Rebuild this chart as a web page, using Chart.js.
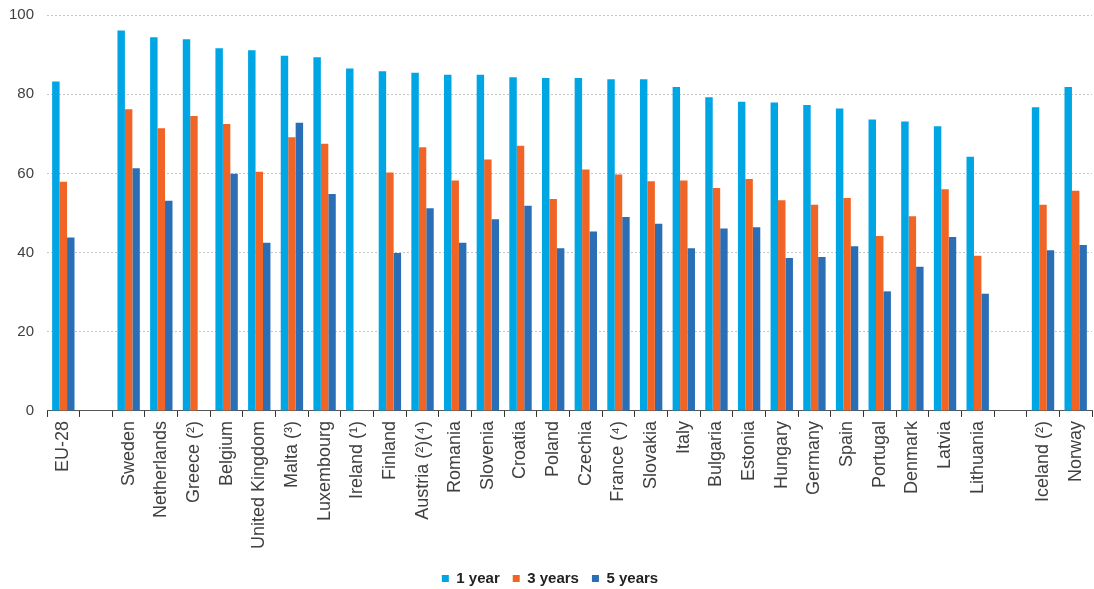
<!DOCTYPE html>
<html>
<head>
<meta charset="utf-8">
<script src="https://cdn.jsdelivr.net/npm/chart.js@4/dist/chart.umd.min.js"></script>
<style>
  html, body { margin: 0; padding: 0; background: #fff; }
  #wrap { width: 1094px; height: 589px; }
</style>
</head>
<body>
<div id="wrap"><canvas id="myChart"></canvas></div>
<script>
// countries (empty strings are the gaps between groups)
const countries = ['EU-28', '', 'Sweden', 'Netherlands', 'Greece (\u00b2)', 'Belgium', 'United Kingdom',
    'Malta (\u00b3)', 'Luxembourg', 'Ireland (\u00b9)', 'Finland', 'Austria (\u00b2)(\u2074)', 'Romania',
    'Slovenia', 'Croatia', 'Poland', 'Czechia', 'France (\u2074)', 'Slovakia', 'Italy', 'Bulgaria',
    'Estonia', 'Hungary', 'Germany', 'Spain', 'Portugal', 'Denmark', 'Latvia', 'Lithuania', '',
    'Iceland (\u00b2)', 'Norway'];

const oneYear = [83.2, null, 96.1, 94.4, 93.9, 91.6, 91.1, 89.7, 89.3, 86.5, 85.8, 85.4, 84.9,
    84.9, 84.3, 84.1, 84.1, 83.8, 83.8, 81.8, 79.2, 78.1, 77.9, 77.3, 76.4, 73.6, 73.1, 71.9, 64.2, null,
    76.7, 81.8];
const threeYears = [57.9, null, 76.2, 71.4, 74.5, 72.5, 60.4, 69.1, 67.5, null, 60.2, 66.6, 58.2,
    63.5, 67.0, 53.5, 61.0, 59.7, 58.0, 58.2, 56.3, 58.6, 53.2, 52.1, 53.8, 44.2, 49.2, 56.0, 39.2, null,
    52.1, 55.6];
const fiveYears = [43.8, null, 61.3, 53.1, null, 59.9, 42.5, 72.8, 54.8, null, 39.9, 51.2, 42.5,
    48.4, 51.8, 41.1, 45.3, 49.0, 47.3, 41.1, 46.1, 46.4, 38.6, 38.9, 41.6, 30.2, 36.4, 43.9, 29.6, null,
    40.6, 41.9];

const seriesNames = ['1 year', '3 years', '5 years'];
const yTicks = [0, 20, 40, 60, 80, 100];

const ctx = document.getElementById('myChart').getContext('2d');
const myChart = new Chart(ctx, {
    type: 'bar',
    data: {
        labels: countries,
        datasets: [
            { label: seriesNames[0], data: oneYear, backgroundColor: '#00a5e3' },
            { label: seriesNames[1], data: threeYears, backgroundColor: '#f06526' },
            { label: seriesNames[2], data: fiveYears, backgroundColor: '#2a6fb6' }
        ]
    },
    options: {
        responsive: true,
        maintainAspectRatio: false,
        animation: false,
        datasets: {
            bar: { barPercentage: 1, categoryPercentage: 0.685 }
        },
        layout: {
            padding: { top: 15, right: 2, left: 8, bottom: -7 }
        },
        plugins: {
            tooltip: { enabled: false },
            legend: {
                position: 'bottom',
                labels: {
                    boxWidth: 7,
                    boxHeight: 7,
                    padding: 13,
                    color: '#222',
                    font: { family: "'Liberation Sans', Arial", size: 15, weight: 'bold' }
                }
            }
        },
        scales: {
            x: {
                // keep the axis block the same height as the original
                afterFit: axis => {
                    axis.height += 5;
                    axis.paddingLeft = 0;
                    axis.paddingRight = 0;
                },
                grid: {
                    display: true,
                    drawOnChartArea: false,
                    offset: true,
                    tickLength: 6,
                    color: '#333'
                },
                border: { color: '#555', width: 1 },
                ticks: {
                    autoSkip: false,
                    minRotation: 90,
                    maxRotation: 90,
                    padding: 4,
                    color: '#404040',
                    font: { family: "'Liberation Sans', Arial", size: 18 }
                }
            },
            y: {
                min: 0,
                max: 100,
                afterBuildTicks: axis => { axis.ticks = yTicks.map(v => ({ value: v })); },
                afterFit: axis => {
                    axis.width = 39;
                    axis.paddingTop = 0;
                    axis.paddingBottom = 0;
                },
                grid: {
                    color: '#c4c4c4',
                    drawTicks: false
                },
                border: { display: false, dash: [2, 2] },
                ticks: {
                    padding: 13,
                    color: '#404040',
                    font: { family: "'Liberation Sans', Arial", size: 15 }
                }
            }
        }
    }
});
</script>
</body>
</html>
